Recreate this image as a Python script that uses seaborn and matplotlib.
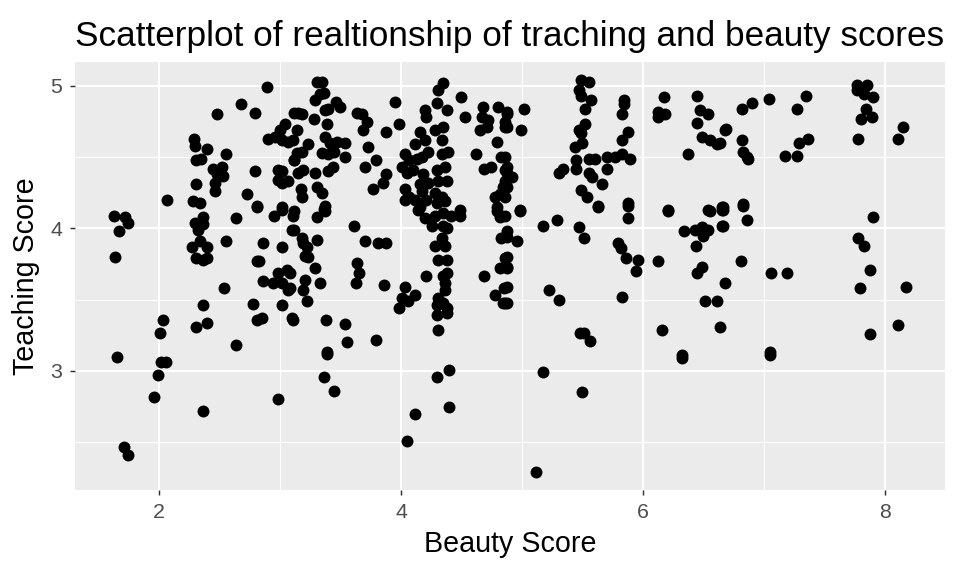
import pandas as pd
import matplotlib
matplotlib.use("Agg")
import matplotlib.pyplot as plt
import seaborn as sns
from matplotlib.ticker import MultipleLocator

# beauty score (jittered) and teaching score
beauty = [
    1.63, 1.72, 1.74, 1.67, 1.64, 1.65, 1.71, 1.74, 1.96, 1.99, 2.01, 2.03, 2.02, 2.06, 2.07,
    2.29, 2.30, 2.40, 2.55, 2.31, 2.35, 2.45, 2.52, 2.48, 2.53, 2.46, 2.46, 2.31, 2.28, 2.34,
    2.48, 2.68, 2.79, 2.89, 2.73, 2.81, 2.79, 3.00, 3.04, 2.90, 2.96, 3.02, 3.07, 2.98, 3.02,
    2.98, 3.02, 3.07, 3.12, 3.12, 3.02,
    2.30, 2.36, 2.32, 2.36, 2.27, 2.34, 2.40, 2.31, 2.40, 2.36, 2.55, 2.64, 2.54, 2.36, 2.31,
    2.40, 2.64, 2.81, 2.86, 2.81, 2.83, 2.86, 2.94, 2.98, 3.06, 3.02, 3.07, 3.02, 2.78, 3.02,
    2.81, 2.85, 3.11, 3.10, 3.10, 2.95, 3.02, 2.36, 2.98,
    3.31, 3.35, 3.29, 3.33, 3.36, 3.15, 3.18, 3.28, 3.37, 3.40, 3.46, 3.50, 3.39, 3.14, 3.11,
    3.37, 3.41, 3.47, 3.54, 3.23, 3.14, 3.18, 3.12, 3.35, 3.40, 3.45, 3.54, 3.44, 3.40, 3.29,
    3.19, 3.15, 3.17, 3.18, 3.31, 3.35, 3.37, 3.64, 3.68, 3.72, 3.69, 3.73, 3.79, 3.70, 3.88,
    3.85, 3.77, 3.88, 3.98, 3.95,
    4.35, 4.31, 4.30, 4.50, 4.20, 4.21, 4.38, 4.53, 4.16, 4.20, 4.12, 4.28, 4.35, 4.34, 4.03,
    4.07, 4.13, 4.17, 4.22, 4.34, 4.39, 4.01, 4.05, 4.10, 4.18, 4.30, 4.36, 4.16, 4.22, 4.31,
    4.38, 4.03, 4.07, 4.17, 4.28, 4.34, 4.03, 4.12, 4.21, 4.30, 4.36, 4.16,
    4.68, 4.67, 4.72, 4.65, 4.71, 4.80, 4.88, 4.86, 4.62, 4.69, 4.74, 4.79, 4.83, 4.86, 4.84,
    4.78, 4.82, 4.79, 4.49,
    4.88, 4.88, 4.86, 5.02, 4.99, 4.86, 4.88, 4.88, 4.92, 4.86, 4.88, 4.86, 4.98,
    5.49, 5.55, 5.47, 5.49, 5.57, 5.52, 5.52, 5.47, 5.49, 5.50, 5.44, 5.45, 5.55, 5.60, 5.70,
    5.77, 5.83, 5.89, 5.34, 5.31, 5.45, 5.55, 5.58, 5.70, 5.66, 5.49, 5.54, 5.63, 5.88, 5.84,
    5.84, 5.83, 5.88, 5.83, 6.17, 6.12, 6.18, 6.12, 6.45, 6.47, 6.54, 6.45, 6.49, 6.55, 6.61,
    6.68, 6.37, 6.21, 6.54, 6.65,
    6.64, 6.69, 6.82, 6.90, 6.82, 6.83, 6.86, 6.87, 7.04, 7.35, 7.27, 7.17, 7.27, 7.29, 7.36,
    7.77, 7.85, 7.77, 7.83, 7.90, 7.84, 7.80, 7.89, 7.78, 8.15, 8.11, 6.66, 6.83,
    3.12, 3.31, 3.37, 3.36, 3.12, 3.18, 3.19, 3.22, 3.31, 3.21, 3.23, 3.29, 3.21, 3.19, 3.33,
    3.08, 3.08, 3.22, 3.11, 3.38, 3.54, 3.55, 3.39, 3.79, 3.61, 3.70, 3.81, 3.88, 3.64, 3.65,
    3.63, 3.86, 4.03, 4.12, 4.01, 4.06, 3.98, 4.14, 4.20, 4.28, 4.35, 4.41, 4.49, 4.26, 4.35,
    4.38, 4.34, 4.28, 4.36, 4.31, 4.38, 4.21, 4.35, 4.38, 4.36, 4.36, 4.31, 4.35, 4.30, 4.38,
    4.30, 4.38, 4.31, 4.69, 4.79, 4.82, 4.83, 4.86, 4.82, 4.88, 4.85, 4.78, 4.84, 4.88,
    3.39, 3.36, 3.45, 4.40, 4.30, 4.40, 4.12, 4.05,
    4.98, 4.86, 4.88, 4.88, 4.96, 4.88, 4.88, 4.88, 4.86, 5.17, 5.29, 5.47, 5.51, 5.63, 5.88,
    5.88, 5.79, 5.82, 5.86, 5.96, 5.94, 6.12, 5.22, 5.31, 5.83, 5.48, 5.51, 5.56, 6.16, 6.21,
    6.34, 6.43, 6.49, 6.54, 6.50, 6.55, 6.44, 6.49, 6.45, 6.51, 6.61, 6.68, 6.64, 6.65, 6.65,
    6.32, 6.66, 6.66, 6.83, 6.86, 6.81, 7.06, 7.19, 7.05, 7.90, 7.78, 7.83, 7.88, 7.79, 8.17,
    8.11, 7.88, 5.17, 5.50, 5.12, 6.32, 7.05,
]
teaching = [
    4.09, 4.08, 4.04, 3.98, 3.80, 3.10, 2.47, 2.41, 2.82, 2.97, 3.27, 3.36, 3.06, 3.06, 4.20,
    4.63, 4.58, 4.56, 4.52, 4.48, 4.49, 4.42, 4.43, 4.38, 4.37, 4.32, 4.26, 4.31, 4.19, 4.18,
    4.80, 4.87, 4.81, 4.99, 4.24, 4.16, 4.40, 4.69, 4.73, 4.63, 4.64, 4.62, 4.61, 4.41, 4.40,
    4.34, 4.32, 4.33, 4.81, 4.48, 4.15,
    4.04, 4.08, 3.99, 4.03, 3.87, 3.91, 3.87, 3.79, 3.79, 3.78, 3.91, 4.07, 3.58, 3.46, 3.31,
    3.34, 3.18, 4.15, 3.90, 3.77, 3.77, 3.63, 3.62, 3.69, 3.71, 3.62, 3.57, 3.87, 3.47, 3.46,
    3.36, 3.37, 4.09, 3.99, 3.37, 4.09, 4.13, 2.72, 2.80,
    5.03, 5.03, 4.90, 4.94, 4.95, 4.81, 4.80, 4.77, 4.83, 4.84, 4.89, 4.85, 4.73, 4.69, 4.62,
    4.64, 4.60, 4.61, 4.60, 4.59, 4.53, 4.54, 4.48, 4.53, 4.52, 4.54, 4.50, 4.43, 4.40, 4.39,
    4.41, 4.39, 4.28, 4.22, 4.29, 4.25, 4.16, 4.81, 4.80, 4.75, 4.69, 4.57, 4.48, 4.43, 4.38,
    4.32, 4.28, 4.68, 4.73, 4.89,
    5.02, 4.97, 4.88, 4.92, 4.83, 4.78, 4.83, 4.78, 4.68, 4.62, 4.59, 4.69, 4.71, 4.62, 4.52,
    4.48, 4.49, 4.50, 4.54, 4.52, 4.54, 4.43, 4.39, 4.41, 4.38, 4.41, 4.43, 4.31, 4.32, 4.33,
    4.33, 4.28, 4.22, 4.26, 4.25, 4.22, 4.20, 4.20, 4.20, 4.18, 4.19, 4.15,
    4.85, 4.78, 4.76, 4.69, 4.71, 4.85, 4.82, 4.71, 4.52, 4.42, 4.43, 4.61, 4.50, 4.41, 4.29,
    4.22, 4.24, 4.15, 4.13,
    4.80, 4.71, 4.75, 4.84, 4.69, 4.50, 4.43, 4.39, 4.36, 4.33, 4.29, 4.22, 4.13,
    5.04, 5.03, 4.97, 4.93, 4.90, 4.84, 4.73, 4.69, 4.67, 4.60, 4.57, 4.48, 4.49, 4.49, 4.50,
    4.50, 4.52, 4.49, 4.42, 4.39, 4.42, 4.39, 4.36, 4.42, 4.31, 4.27, 4.22, 4.16, 4.18, 4.90,
    4.87, 4.80, 4.68, 4.62, 4.92, 4.82, 4.80, 4.78, 4.93, 4.83, 4.80, 4.74, 4.64, 4.62, 4.59,
    4.69, 4.52, 4.13, 4.13, 4.15,
    4.60, 4.70, 4.84, 4.88, 4.62, 4.54, 4.50, 4.49, 4.91, 4.93, 4.84, 4.51, 4.51, 4.60, 4.63,
    5.01, 5.01, 4.97, 4.94, 4.92, 4.84, 4.77, 4.78, 4.63, 4.71, 4.63, 4.15, 4.17,
    4.12, 4.08, 4.12, 4.14, 3.99, 3.93, 3.90, 3.87, 3.92, 3.81, 3.80, 3.72, 3.64, 3.57, 3.62,
    3.69, 3.58, 3.49, 3.36, 3.36, 3.33, 3.20, 3.13, 3.22, 4.02, 3.91, 3.90, 3.90, 3.76, 3.69,
    3.62, 3.60, 3.59, 3.53, 3.51, 3.49, 3.44, 4.13, 4.07, 4.09, 4.11, 4.09, 4.09, 4.02, 4.02,
    4.00, 3.93, 3.88, 3.88, 3.78, 3.78, 3.67, 3.67, 3.69, 3.62, 3.57, 3.51, 3.48, 3.46, 3.44,
    3.39, 3.41, 3.29, 3.67, 4.12, 4.08, 3.93, 3.79, 3.72, 3.73, 3.58, 3.53, 3.48, 3.48,
    3.12, 2.96, 2.86, 3.01, 2.96, 2.75, 2.70, 2.51,
    4.12, 4.09, 3.98, 3.94, 3.91, 3.80, 3.72, 3.59, 3.48, 4.02, 4.06, 4.01, 3.93, 4.15, 4.16,
    4.07, 3.90, 3.86, 3.79, 3.78, 3.70, 3.77, 3.57, 3.50, 3.52, 3.27, 3.27, 3.21, 3.29, 4.12,
    3.98, 3.99, 4.01, 3.99, 3.95, 4.12, 3.88, 3.73, 3.69, 3.49, 3.49, 3.62, 3.31, 4.02, 4.13,
    3.11, 4.13, 4.02, 4.16, 4.06, 3.77, 3.69, 3.69, 3.13, 4.08, 3.93, 3.88, 3.71, 3.58, 3.59,
    3.32, 3.26, 2.99, 2.85, 2.29, 3.09, 3.11,
]

df = pd.DataFrame({"bty_avg": beauty, "score": teaching})

sns.set_style("darkgrid", {
    "axes.facecolor": "#EBEBEB",
    "grid.color": "white",
    "axes.edgecolor": "#EBEBEB",
    "xtick.bottom": True,
    "ytick.left": True,
})
plt.rcParams["font.family"] = ["Liberation Sans", "DejaVu Sans"]

fig, ax = plt.subplots(figsize=(10, 6), dpi=96)
fig.subplots_adjust(left=75 / 960, right=945 / 960, top=1 - 62 / 576, bottom=1 - 490 / 576)

sns.scatterplot(data=df, x="bty_avg", y="score", color="black", s=80,
                linewidth=0, ax=ax)

ax.set_xlim(1.306, 8.496)
ax.set_ylim(2.165, 5.168)
ax.xaxis.set_major_locator(MultipleLocator(2))
ax.xaxis.set_minor_locator(MultipleLocator(1))
ax.yaxis.set_major_locator(MultipleLocator(1))
ax.yaxis.set_minor_locator(MultipleLocator(0.5))
ax.grid(which="major", color="white", linewidth=1.5)
ax.grid(which="minor", color="white", linewidth=0.75)
ax.tick_params(which="major", length=4, width=1.1, color="#333333",
               labelcolor="#4D4D4D", labelsize=16, pad=5.5)
ax.tick_params(which="minor", length=0)
for s in ax.spines.values():
    s.set_visible(False)

ax.set_xlabel("Beauty Score", fontsize=21.5, color="black", labelpad=6)
ax.set_ylabel("Teaching Score", fontsize=21.5, color="black", labelpad=8)
ax.set_title("Scatterplot of realtionship of traching and beauty scores",
             fontsize=26.3, loc="left", pad=12, color="black")

fig.savefig("out.png", dpi=96)
